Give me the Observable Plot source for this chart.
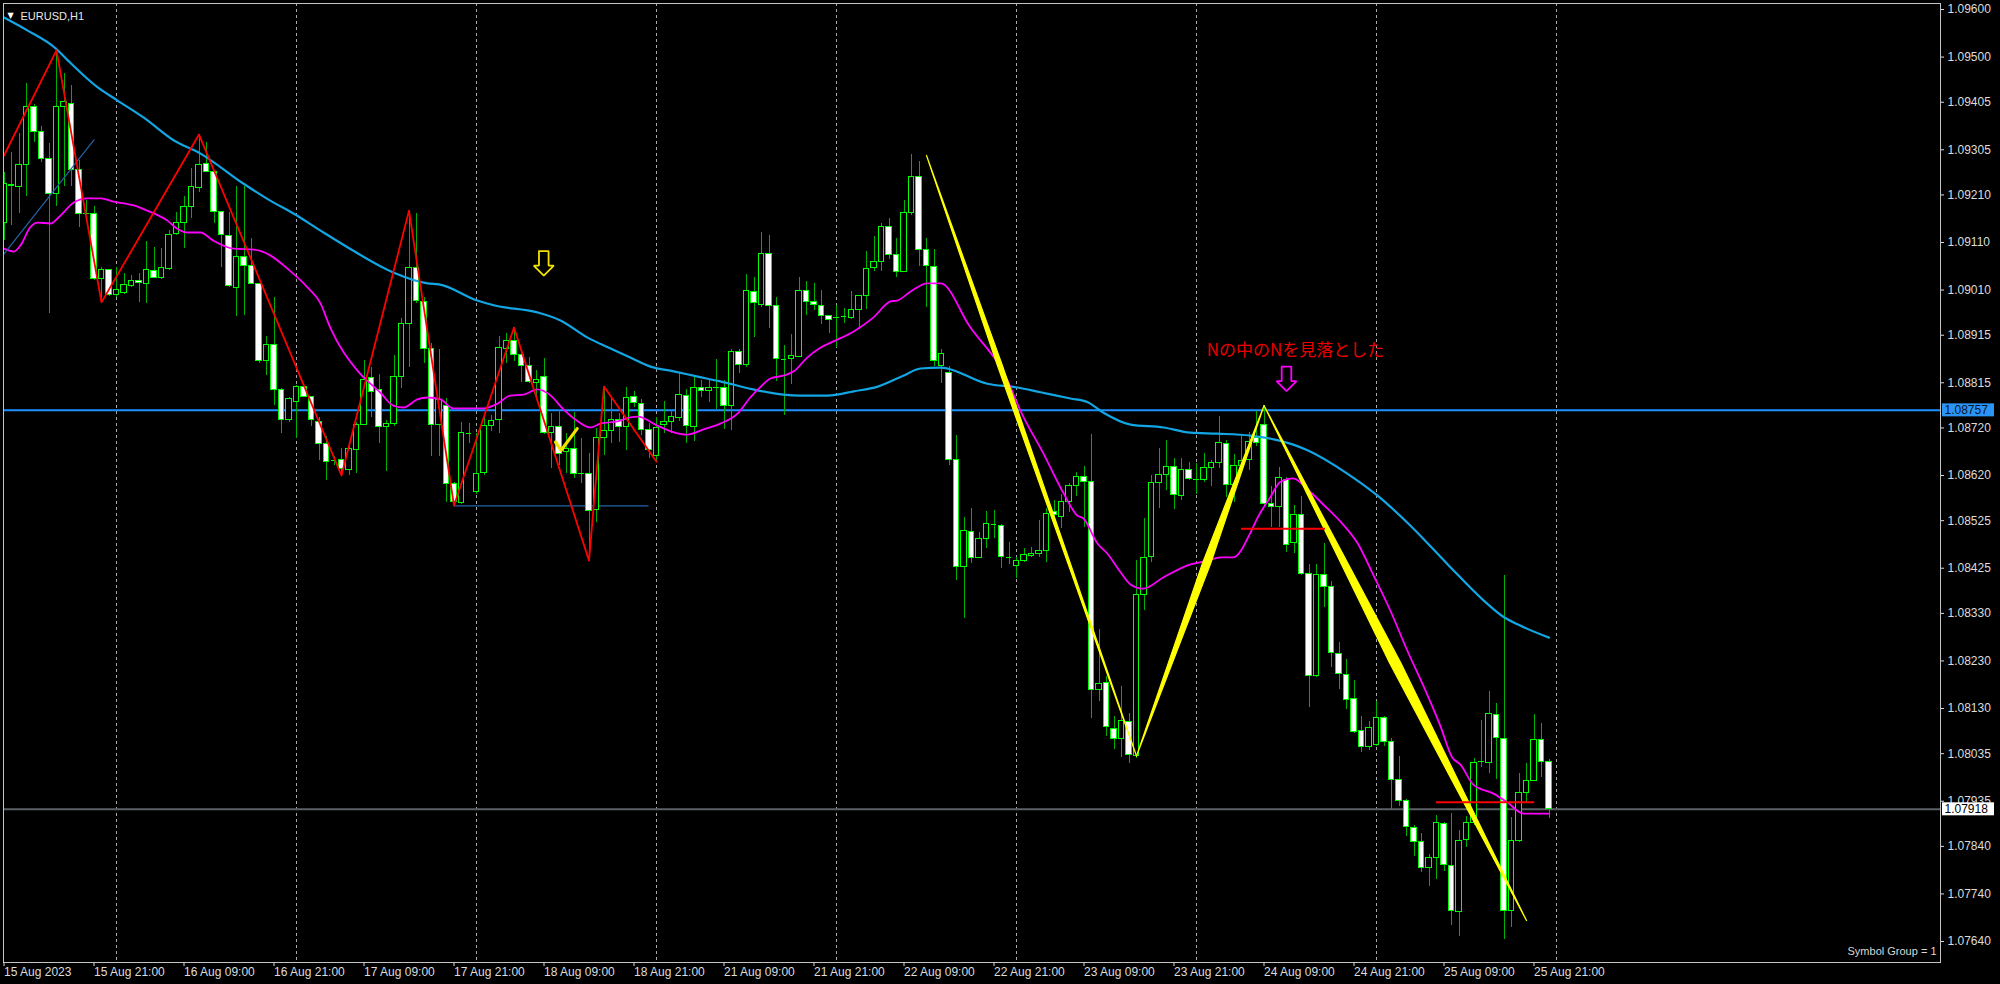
<!DOCTYPE html>
<html>
<head>
<meta charset="utf-8">
<script src="https://cdn.jsdelivr.net/npm/d3@7"></script>
<script src="https://cdn.jsdelivr.net/npm/@observablehq/plot@0.6"></script>
<style>
html,body{margin:0;padding:0;background:#000;overflow:hidden}
#chart{width:2000px;height:984px}
</style>
</head>
<body>
<div id="chart"></div>
<script>
// ---------------- DATA ----------------
const symbolTitle = "EURUSD,H1";
const footerText = "Symbol Group = 1";
const noteText = "Nの中のNを見落とした";

const xTickIdx = [0,12,24,36,48,60,72,84,96,108,120,132,144,156,168,180,192,204];
const xTickLabels = ["15 Aug 2023","15 Aug 21:00","16 Aug 09:00","16 Aug 21:00","17 Aug 09:00","17 Aug 21:00","18 Aug 09:00","18 Aug 21:00","21 Aug 09:00","21 Aug 21:00","22 Aug 09:00","22 Aug 21:00","23 Aug 09:00","23 Aug 21:00","24 Aug 09:00","24 Aug 21:00","25 Aug 09:00","25 Aug 21:00"];
const dayGridIdx = [15,39,63,87,111,135,159,183,207];
const yTickValues = [1.09600,1.09500,1.09405,1.09305,1.09210,1.09110,1.09010,1.08915,1.08815,1.08720,1.08620,1.08525,1.08425,1.08330,1.08230,1.08130,1.08035,1.07935,1.07840,1.07740,1.07640];

const opens = [
1.09150,1.09230,1.09227,1.09272,1.09395,1.09342,1.09285,1.09213,1.09395,1.09402,
1.09262,1.09171,1.09169,1.09034,1.09053,1.09000,1.09004,1.09018,1.09030,1.09023,
1.09051,1.09036,1.09055,1.09127,1.09151,1.09185,1.09225,1.09276,1.09258,1.09174,
1.09123,1.09014,1.09079,1.09060,1.09023,1.08861,1.08894,1.08800,1.08736,1.08774,
1.08806,1.08785,1.08732,1.08687,1.08652,1.08652,1.08632,1.08674,1.08727,1.08825,
1.08799,1.08722,1.08729,1.08827,1.08938,1.09057,1.08985,1.08886,1.08727,1.08767,
1.08603,1.08562,1.08709,1.08585,1.08625,1.08724,1.08736,1.08886,1.08903,1.08874,
1.08851,1.08815,1.08827,1.08709,1.08723,1.08669,1.08676,1.08625,1.08624,1.08548,
1.08699,1.08713,1.08736,1.08723,1.08786,1.08771,1.08716,1.08660,1.08727,1.08733,
1.08740,1.08787,1.08723,1.08805,1.08797,1.08805,1.08805,1.08767,1.08879,1.08853,
1.09005,1.08978,1.09085,1.08977,1.08865,1.08864,1.08870,1.09009,1.08985,1.08977,
1.08955,1.08953,1.08953,1.08952,1.08967,1.08998,1.09056,1.09069,1.09143,1.09084,
1.09048,1.09172,1.09247,1.09095,1.09058,1.08850,1.08835,1.08652,1.08427,1.08502,
1.08446,1.08486,1.08517,1.08514,1.08448,1.08430,1.08440,1.08451,1.08455,1.08461,
1.08543,1.08532,1.08564,1.08597,1.08617,1.08606,1.08168,1.08183,1.08087,1.08066,
1.08101,1.08031,1.08369,1.08448,1.08604,1.08620,1.08638,1.08576,1.08631,1.08612,
1.08611,1.08636,1.08646,1.08687,1.08601,1.08639,1.08652,1.08699,1.08726,1.08560,
1.08554,1.08611,1.08477,1.08537,1.08413,1.08198,1.08410,1.08386,1.08244,1.08201,
1.08150,1.08083,1.08048,1.08053,1.08109,1.08059,1.07979,1.07935,1.07879,1.07849,
1.07794,1.07816,1.07888,1.07799,1.07702,1.07853,1.07890,1.08018,1.08016,1.08117,
1.08066,1.07704,1.07852,1.07953,1.07978,1.08064,1.08018];

const highs = [
1.09258,1.09300,1.09339,1.09444,1.09400,1.09353,1.09318,1.09514,1.09465,1.09440,
1.09283,1.09199,1.09185,1.09058,1.09053,1.09058,1.09044,1.09041,1.09044,1.09113,
1.09100,1.09097,1.09135,1.09174,1.09206,1.09265,1.09337,1.09321,1.09262,1.09174,
1.09174,1.09227,1.09227,1.09118,1.09023,1.08912,1.08995,1.08802,1.08785,1.08809,
1.08807,1.08785,1.08743,1.08701,1.08659,1.08676,1.08680,1.08732,1.08862,1.08848,
1.08832,1.08736,1.08872,1.08950,1.09177,1.09170,1.08995,1.08897,1.08886,1.08781,
1.08606,1.08732,1.08729,1.08708,1.08743,1.08746,1.08912,1.08919,1.08931,1.08883,
1.08869,1.08841,1.08865,1.08750,1.08757,1.08708,1.08753,1.08697,1.08666,1.08718,
1.08807,1.08781,1.08750,1.08806,1.08797,1.08780,1.08729,1.08742,1.08776,1.08757,
1.08836,1.08801,1.08826,1.08819,1.08822,1.08863,1.08819,1.08885,1.08885,1.09042,
1.09037,1.09130,1.09124,1.08995,1.08894,1.08917,1.09037,1.09029,1.09024,1.09009,
1.08956,1.08978,1.08971,1.09007,1.08999,1.09092,1.09122,1.09151,1.09160,1.09118,
1.09199,1.09295,1.09281,1.09118,1.09095,1.08885,1.08850,1.08704,1.08532,1.08550,
1.08501,1.08544,1.08547,1.08516,1.08480,1.08448,1.08466,1.08469,1.08526,1.08550,
1.08567,1.08581,1.08603,1.08627,1.08639,1.08706,1.08296,1.08197,1.08113,1.08176,
1.08120,1.08441,1.08529,1.08620,1.08676,1.08694,1.08655,1.08655,1.08648,1.08645,
1.08666,1.08652,1.08744,1.08694,1.08664,1.08704,1.08710,1.08755,1.08767,1.08597,
1.08637,1.08616,1.08556,1.08576,1.08432,1.08432,1.08477,1.08398,1.08268,1.08232,
1.08188,1.08113,1.08102,1.08144,1.08113,1.08066,1.08029,1.07938,1.07884,1.07867,
1.07824,1.07905,1.07891,1.07910,1.07873,1.07903,1.08025,1.08105,1.08166,1.08141,
1.08410,1.07900,1.07993,1.08015,1.08117,1.08099,1.08023];

const lows = [
1.09114,1.09146,1.09170,1.09206,1.09321,1.09279,1.08960,1.09185,1.09227,1.09227,
1.09142,1.09167,1.09030,1.08984,1.08997,1.08995,1.09001,1.09016,1.08983,1.08981,
1.09034,1.09032,1.09051,1.09125,1.09097,1.09160,1.09216,1.09258,1.09149,1.09058,
1.09016,1.08955,1.08957,1.09023,1.08855,1.08830,1.08767,1.08708,1.08732,1.08697,
1.08785,1.08722,1.08652,1.08610,1.08641,1.08620,1.08620,1.08625,1.08725,1.08743,
1.08688,1.08629,1.08722,1.08802,1.08848,1.08981,1.08855,1.08660,1.08659,1.08564,
1.08557,1.08560,1.08687,1.08581,1.08620,1.08713,1.08708,1.08855,1.08860,1.08816,
1.08813,1.08781,1.08706,1.08634,1.08641,1.08624,1.08613,1.08603,1.08441,1.08522,
1.08662,1.08687,1.08690,1.08673,1.08763,1.08704,1.08655,1.08649,1.08708,1.08708,
1.08733,1.08687,1.08691,1.08784,1.08774,1.08759,1.08716,1.08715,1.08835,1.08847,
1.08911,1.08974,1.08929,1.08818,1.08746,1.08812,1.08868,1.08957,1.08966,1.08938,
1.08919,1.08890,1.08940,1.08949,1.08927,1.08970,1.09050,1.09050,1.09075,1.09037,
1.09047,1.09167,1.09060,1.08974,1.08850,1.08813,1.08641,1.08399,1.08319,1.08434,
1.08445,1.08466,1.08487,1.08424,1.08433,1.08403,1.08438,1.08448,1.08448,1.08438,
1.08511,1.08508,1.08543,1.08575,1.08511,1.08108,1.08145,1.08071,1.08043,1.08028,
1.08014,1.08024,1.08336,1.08438,1.08550,1.08589,1.08548,1.08567,1.08610,1.08581,
1.08606,1.08597,1.08634,1.08574,1.08564,1.08624,1.08631,1.08680,1.08553,1.08511,
1.08511,1.08458,1.08455,1.08410,1.08132,1.08196,1.08342,1.08216,1.08171,1.08128,
1.08078,1.08038,1.08042,1.08051,1.08051,1.07918,1.07923,1.07861,1.07818,1.07786,
1.07756,1.07771,1.07788,1.07674,1.07651,1.07837,1.07884,1.08006,1.07993,1.07981,
1.07645,1.07670,1.07848,1.07933,1.07976,1.07985,1.07899];

const closes = [
1.09234,1.09228,1.09272,1.09396,1.09342,1.09286,1.09213,1.09395,1.09405,1.09262,
1.09170,1.09169,1.09034,1.09053,1.08999,1.09011,1.09021,1.09029,1.09025,1.09053,
1.09036,1.09057,1.09125,1.09151,1.09185,1.09227,1.09273,1.09258,1.09174,1.09125,
1.09018,1.09079,1.09060,1.09023,1.08860,1.08894,1.08800,1.08736,1.08781,1.08806,
1.08785,1.08736,1.08687,1.08648,1.08650,1.08634,1.08676,1.08727,1.08821,1.08795,
1.08723,1.08729,1.08827,1.08939,1.09057,1.08988,1.08886,1.08727,1.08778,1.08603,
1.08564,1.08709,1.08708,1.08624,1.08725,1.08734,1.08888,1.08903,1.08874,1.08851,
1.08816,1.08820,1.08709,1.08723,1.08666,1.08676,1.08624,1.08624,1.08546,1.08699,
1.08713,1.08737,1.08723,1.08783,1.08773,1.08716,1.08674,1.08720,1.08733,1.08744,
1.08790,1.08725,1.08805,1.08797,1.08803,1.08804,1.08767,1.08879,1.08853,1.09007,
1.08982,1.09085,1.08977,1.08864,1.08864,1.08871,1.09009,1.08985,1.08978,1.08955,
1.08946,1.08952,1.08954,1.08967,1.08998,1.09054,1.09069,1.09143,1.09084,1.09048,
1.09172,1.09248,1.09095,1.09060,1.08860,1.08875,1.08652,1.08427,1.08504,1.08446,
1.08487,1.08518,1.08516,1.08448,1.08447,1.08440,1.08453,1.08455,1.08462,1.08539,
1.08536,1.08565,1.08597,1.08617,1.08607,1.08168,1.08182,1.08091,1.08066,1.08103,
1.08033,1.08369,1.08446,1.08604,1.08621,1.08638,1.08578,1.08631,1.08613,1.08611,
1.08636,1.08646,1.08689,1.08601,1.08639,1.08650,1.08690,1.08689,1.08560,1.08554,
1.08614,1.08474,1.08537,1.08413,1.08198,1.08410,1.08386,1.08246,1.08202,1.08148,
1.08081,1.08048,1.08088,1.08109,1.08060,1.07979,1.07936,1.07880,1.07850,1.07794,
1.07816,1.07890,1.07800,1.07704,1.07852,1.07890,1.08015,1.08017,1.08118,1.08068,
1.07704,1.07852,1.07953,1.07978,1.08064,1.08017,1.07918];

// slow moving average (cyan), read at points
const maSlowBars = [0,3.1,6.9,8.5,12.5,15.1,18.6,22.6,26.2,31.9,35.5,38.6,42.2,45.8,51.9,56.5,58,63.1,65.3,71.1,74.2,77.8,80.9,83.5,86.2,89.3,92.5,95.5,99.9,103.9,106.2,109.8,113.3,116.5,119.9,122.2,124.9,131.1,135.1,138.2,142.2,144.5,146.6,150.2,154.6,158.2,161.8,166.2,169.3,171.9,173.8,179.1,183.1,187.5,192.5,197.3,199.9,201.8,206];
const maSlowPrices = [1.09583,1.09556,1.09518,1.09493,1.09436,1.09409,1.09373,1.09325,1.09297,1.09234,1.09198,1.09171,1.09135,1.09100,1.09047,1.09024,1.09022,1.08988,1.08978,1.08963,1.08946,1.08910,1.08887,1.08868,1.08849,1.08839,1.08828,1.08818,1.08801,1.08790,1.08788,1.08788,1.08797,1.08807,1.08830,1.08845,1.08847,1.08813,1.08805,1.08795,1.08782,1.08774,1.08752,1.08727,1.08721,1.08710,1.08708,1.08704,1.08696,1.08685,1.08673,1.08624,1.08578,1.08515,1.08433,1.08357,1.08323,1.08307,1.08279];

// fast moving average (magenta), read at points
const maFastBars = [0,1.3,2.2,3.5,4.5,6.2,7.3,9.3,11.1,12.9,14.6,17.3,19.1,21.8,23.1,24.5,26.2,27.9,30.6,33.3,35.5,37.8,40.5,42.2,43.5,47.1,50.2,51.9,53.3,55.1,56.5,58.2,59.9,63.9,65.8,67.5,69.3,71.1,72.9,74.6,76.5,78.2,79.5,81.8,83.5,84.5,87.1,88.9,91.1,93.3,95.5,97.8,99.5,100.9,102.2,103.9,105.3,107.1,108.9,110.6,113.3,115.9,118.2,119.1,120.9,123.1,124.9,128.7,133.8,135.5,138.6,141.3,143.1,143.9,145.8,147.1,148.9,150.2,151.9,154.6,158.2,160.5,162.2,163.9,166.2,167.1,168.9,170.2,171.9,173.8,175.9,178.2,180.5,182.6,184.9,187.1,189.3,191.5,193.1,194.2,195.9,198.6,200.5,202.6,206];
const maFastPrices = [1.09097,1.09091,1.09104,1.09142,1.09152,1.09150,1.09163,1.09194,1.09203,1.09203,1.09196,1.09188,1.09177,1.09156,1.09139,1.09131,1.09131,1.09114,1.09097,1.09095,1.09083,1.09055,1.09015,1.08982,1.08931,1.08841,1.08794,1.08767,1.08763,1.08780,1.08784,1.08780,1.08761,1.08761,1.08771,1.08788,1.08790,1.08801,1.08788,1.08759,1.08734,1.08721,1.08729,1.08734,1.08742,1.08744,1.08725,1.08713,1.08706,1.08717,1.08729,1.08750,1.08784,1.08807,1.08824,1.08830,1.08839,1.08868,1.08889,1.08902,1.08923,1.08952,1.08986,1.08988,1.09007,1.09024,1.09024,1.08935,1.08820,1.08757,1.08666,1.08582,1.08536,1.08530,1.08477,1.08456,1.08416,1.08391,1.08382,1.08406,1.08433,1.08441,1.08448,1.08448,1.08500,1.08530,1.08576,1.08607,1.08614,1.08591,1.08559,1.08523,1.08477,1.08410,1.08334,1.08252,1.08176,1.08094,1.08027,1.08012,1.07970,1.07951,1.07932,1.07909,1.07909];

// red zigzag
const zigzagBars = [0,7,13,26,45,54,60,68,78,80,87];
const zigzagPrices = [1.09293,1.09514,1.08984,1.09337,1.08620,1.09177,1.08557,1.08931,1.08441,1.08807,1.08649];

// yellow N legs
const nLegBars = [123,151,168,203];
const nLegPrices = [1.09293,1.08030,1.08767,1.07684];

// thin blue trend line and horizontal support
const blueTrendBars = [0,12];
const blueTrendPrices = [1.09086,1.09326];
const blueSupportBars = [60,86];
const blueSupportPrice = 1.08556;

// red short horizontal lines
const redLineStart = [165,191];
const redLineEnd = [176.2,204.1];
const redLinePrices = [1.08508,1.07933];

// price levels
const levelPrice = 1.08757;
const bidPrice = 1.07918;

// annotations anchors (bar index, price)
const arrowBars = [71.97,171.0];
const arrowPrices = [1.09092,1.08849];
const checkBar = 74.29, checkPrice = 1.08673;
const noteBar = 172.2, notePrice = 1.08883;

// ---------------- GEOMETRY / STYLE ----------------
const W = 2000, H = 984, mL = 3, mR = 60, mT = 3, mB = 22;
const firstBarPx = 3.5, barPx = 7.5;          // horizontal layout of bars
const topPx = 9, topPrice = 1.096, pxPerUnit = 47551; // vertical layout
const pxToBar = px => (px - firstBarPx) / barPx;
const pxToPrice = py => topPrice - (py - topPx) / pxPerUnit;
const dBar = dx => dx / barPx;
const dPrice = dy => dy / pxPerUnit;

const n = Math.min(opens.length, highs.length, lows.length, closes.length);
const candles = d3.range(n).map(i => ({
  i, o: opens[i], c: closes[i],
  h: Math.max(highs[i], opens[i], closes[i]),
  l: Math.min(lows[i], opens[i], closes[i])
}));
const EPS = 0.00002;
const bulls = candles.filter(d => d.c - d.o >= EPS);
const bears = candles.filter(d => d.o - d.c >= EPS);
const dojis = candles.filter(d => Math.abs(d.o - d.c) < EPS);
const BW = 0.36;

const maSlow = maSlowBars.map((b, k) => ({b, p: maSlowPrices[k]}));
const maFast = maFastBars.map((b, k) => ({b, p: maFastPrices[k]}));
const zigzag = zigzagBars.map((b, k) => ({b, p: zigzagPrices[k]}));

const legPeak = [0.35, 0.55, 0.5];
const legHalf = [0.33, 0.55, 0.75];
const legPoly = [];
for (let k = 0; k < nLegBars.length - 1; k++) {
  const b1 = nLegBars[k], p1 = nLegPrices[k], b2 = nLegBars[k+1], p2 = nLegPrices[k+1];
  const t = legPeak[k], w = legHalf[k];
  const mb = b1 + (b2 - b1) * t, mp = p1 + (p2 - p1) * t;
  legPoly.push({leg:k, b:b1, p:p1}, {leg:k, b:mb + w, p:mp}, {leg:k, b:b2, p:p2}, {leg:k, b:mb - w, p:mp}, {leg:k, b:b1, p:p1});
}

const arrowShape = [[-4.8,0],[4.8,0],[4.8,14.5],[10,14.5],[0,24.5],[-10,14.5],[-4.8,14.5],[-4.8,0]];
const arrowColors = ["#f2e200", "#ff00ff"];
const arrows = [];
arrowBars.forEach((ab, k) => arrowShape.forEach(([dx, dy]) =>
  arrows.push({k, b: ab + dBar(dx), p: arrowPrices[k] - dPrice(dy)})));

const checkShape = [[-5.7,-8.3],[0,0],[16,-21.7]];
const check = checkShape.map(([dx, dy]) => ({b: checkBar + dBar(dx), p: checkPrice - dPrice(dy)}));

const blueTrend = blueTrendBars.map((b, k) => ({b, p: blueTrendPrices[k]}));
const redLines = redLineStart.map((s, k) => ({s, e: redLineEnd[k], p: redLinePrices[k]}));

const tagHalf = dPrice(6.5);
const tagX1 = pxToBar(1942), tagX2 = pxToBar(1994), tagTextX = pxToBar(1944);

const chart = Plot.plot({
  width: W, height: H,
  marginLeft: mL, marginRight: mR, marginTop: mT, marginBottom: mB,
  style: {background: "#000", color: "#dcdcdc", fontFamily: "'Liberation Sans', Arial, sans-serif", fontSize: "12px", overflow: "visible"},
  x: {type: "linear", domain: [pxToBar(mL), pxToBar(W - mR)]},
  y: {type: "linear", domain: [pxToPrice(H - mB), pxToPrice(mT)]},
  marks: [
    Plot.ruleX(dayGridIdx, {x: d => d, stroke: "#a8a8a8", strokeDasharray: "3,3", strokeWidth: 1, shapeRendering: "crispEdges"}),
    Plot.ruleY([levelPrice], {y: d => d, stroke: "#1e90ff", strokeWidth: 2}),
    Plot.ruleY([bidPrice], {y: d => d, stroke: "#5c6067", strokeWidth: 2}),
    Plot.ruleY([blueSupportPrice], {y: d => d, x1: blueSupportBars[0], x2: blueSupportBars[1], stroke: "#2563a8", strokeWidth: 1.2}),
    // candles
    Plot.ruleX(candles, {x: "i", y1: "l", y2: "h", stroke: "#00b000", strokeWidth: 1, clip: true, shapeRendering: "crispEdges"}),
    Plot.rect(bulls, {x1: d => d.i - BW, x2: d => d.i + BW, y1: "o", y2: "c", fill: "#000", stroke: "#00ff00", strokeWidth: 1, clip: true, shapeRendering: "crispEdges"}),
    Plot.rect(bears, {x1: d => d.i - BW, x2: d => d.i + BW, y1: "o", y2: "c", fill: "#ffffff", stroke: "#00ff00", strokeWidth: 1, clip: true, shapeRendering: "crispEdges"}),
    Plot.ruleY(dojis, {y: d => (d.o + d.c) / 2, x1: d => d.i - BW, x2: d => d.i + BW, stroke: "#00ff00", strokeWidth: 1, clip: true, shapeRendering: "crispEdges"}),
    // moving averages
    Plot.line(maSlow, {x: "b", y: "p", stroke: "#12a6e4", strokeWidth: 2.2, curve: "monotone-x", clip: true}),
    Plot.line(maFast, {x: "b", y: "p", stroke: "#ff00ff", strokeWidth: 1.8, curve: "monotone-x", clip: true}),
    // blue thin trend
    Plot.line(blueTrend, {x: "b", y: "p", stroke: "#2563a8", strokeWidth: 1.2, clip: true}),
    // red zigzag
    Plot.line(zigzag, {x: "b", y: "p", stroke: "#ff0000", strokeWidth: 1.8, clip: true}),
    // yellow N
    Plot.line(legPoly, {x: "b", y: "p", z: "leg", fill: "#ffff00", stroke: "#ffff00", strokeWidth: 1.2, strokeLinejoin: "round"}),
    // red short levels
    Plot.ruleY(redLines, {y: "p", x1: "s", x2: "e", stroke: "#ff0000", strokeWidth: 2}),
    // arrows
    Plot.line(arrows.filter(d => d.k === 0), {x: "b", y: "p", stroke: arrowColors[0], strokeWidth: 1.8, strokeLinejoin: "miter"}),
    Plot.line(arrows.filter(d => d.k === 1), {x: "b", y: "p", stroke: arrowColors[1], strokeWidth: 1.8, strokeLinejoin: "miter"}),
    // check mark
    Plot.line(check, {x: "b", y: "p", stroke: "#f2e200", strokeWidth: 3.2, strokeLinecap: "round", strokeLinejoin: "round"}),
    // note text
    Plot.text([noteText], {x: noteBar, y: notePrice, text: d => d, fill: "#e80000", fontSize: 17, fontFamily: "'Noto Sans CJK JP', 'Noto Sans', sans-serif", textAnchor: "middle"}),
    // frame and axes
    Plot.frame({stroke: "#c4c4c4", strokeWidth: 1}),
    Plot.axisY({anchor: "right", ticks: yTickValues, tickFormat: d => d.toFixed(5), tickSize: 3, tickPadding: 4, color: "#dcdcdc", label: null, fontSize: 12}),
    Plot.axisX({anchor: "bottom", ticks: xTickIdx, tickFormat: d => xTickLabels[xTickIdx.indexOf(d)], tickSize: 4, tickPadding: 1, textAnchor: "start", color: "#dcdcdc", label: null, fontSize: 12}),
    // price tags
    Plot.rect([levelPrice], {x1: tagX1, x2: tagX2, y1: d => d - tagHalf, y2: d => d + tagHalf, fill: "#2a95f5"}),
    Plot.text([levelPrice], {x: tagTextX, y: d => d, text: d => d.toFixed(5), fill: "#06142a", textAnchor: "start", fontSize: 12}),
    Plot.rect([bidPrice], {x1: tagX1, x2: tagX2, y1: d => d - tagHalf, y2: d => d + tagHalf, fill: "#ffffff"}),
    Plot.text([bidPrice], {x: tagTextX, y: d => d, text: d => d.toFixed(5), fill: "#000000", textAnchor: "start", fontSize: 12}),
    // header / footer
    Plot.text(["▼"], {frameAnchor: "top-left", dx: 7, dy: 9, text: d => d, fill: "#ffffff", fontSize: 8, fontFamily: "'DejaVu Sans', sans-serif", textAnchor: "middle"}),
    Plot.text([symbolTitle], {frameAnchor: "top-left", dx: 17, dy: 9, text: d => d, fill: "#e8e8e8", fontSize: 11, textAnchor: "start"}),
    Plot.text([footerText], {frameAnchor: "bottom-right", dx: -4, dy: -8, text: d => d, fill: "#d8d8d8", fontSize: 11, textAnchor: "end"})
  ]
});
document.getElementById("chart").append(chart);
</script>
</body>
</html>
